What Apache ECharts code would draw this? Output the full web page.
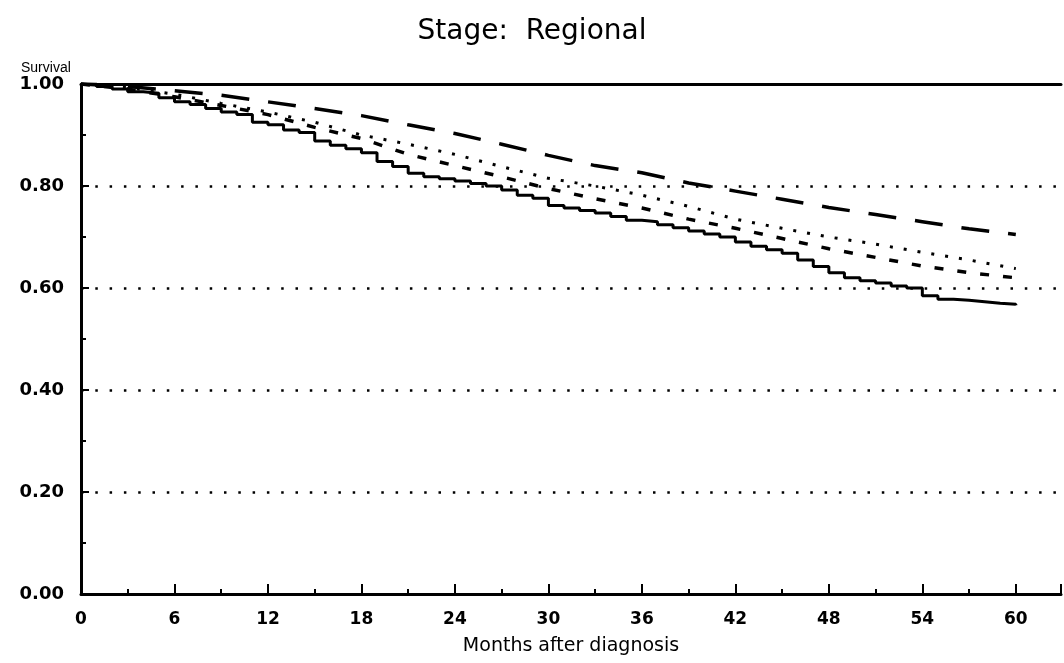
<!DOCTYPE html>
<html>
<head>
<meta charset="utf-8">
<script src="https://cdn.jsdelivr.net/npm/echarts@6/dist/echarts.min.js"></script>
<style>
html,body{margin:0;padding:0;background:#fff;}
#chart{width:1064px;height:663px;}
</style>
</head>
<body>
<div id="chart"></div>
<script>
// Months after diagnosis
const monthsSolid = [0,1,2,3,4,5,6,7,8,9,10,11,12,13,14,15,16,17,18,19,20,21,22,23,24,25,26,27,28,29,30,31,32,33,34,35,36,37,38,39,40,41,42,43,44,45,46,47,48,49,50,51,52,53,54,55,56,57,58,59,60];
const survSolid = [1.0,0.995,0.99,0.985,0.982,0.973,0.965,0.96,0.952,0.945,0.94,0.925,0.92,0.91,0.905,0.888,0.88,0.873,0.865,0.848,0.838,0.825,0.818,0.814,0.81,0.805,0.8,0.792,0.782,0.776,0.762,0.757,0.752,0.747,0.74,0.733,0.73,0.724,0.718,0.712,0.706,0.70,0.69,0.682,0.675,0.668,0.655,0.642,0.63,0.62,0.614,0.61,0.604,0.6,0.585,0.578,0.576,0.573,0.57,0.568,0.566];

const monthsOther = [0,3,6,9,12,15,18,21,24,27,30,33,36,39,42,45,48,51,54,57,60];
const survLongDash = [1.0,0.995,0.987,0.978,0.965,0.952,0.938,0.92,0.903,0.882,0.86,0.84,0.826,0.806,0.79,0.774,0.758,0.744,0.73,0.716,0.705];
const survDotted = [1.0,0.993,0.98,0.962,0.945,0.925,0.9,0.882,0.862,0.838,0.815,0.8,0.782,0.76,0.735,0.717,0.70,0.686,0.67,0.655,0.638];
const survShortDash = [1.0,0.99,0.975,0.958,0.94,0.915,0.893,0.862,0.84,0.818,0.795,0.775,0.757,0.735,0.717,0.697,0.677,0.66,0.643,0.63,0.62];

const xTickStep = 6;
const yTickStep = 0.2;

function pairs(xs, ys){ return xs.map((x,i)=>[x, ys[i]]); }

const chart = echarts.init(document.getElementById('chart'), null, {renderer:'canvas'});
const fontL = '"Liberation Sans", Arial, Helvetica, sans-serif';
const fontD = '"DejaVu Sans", sans-serif';
chart.setOption({
  backgroundColor:'#fff',
  animation:false,
  title:[
    {text:'Stage:  Regional', left:'center', top:13,
     textStyle:{fontFamily:fontD, fontSize:28, fontWeight:'normal', color:'#000'}},
    {text:'Survival', left:16, top:56,
     textStyle:{fontFamily:fontL, fontSize:14, fontWeight:'normal', color:'#000'}}
  ],
  grid:{left:81, right:-3, top:84, bottom:69, containLabel:false},
  xAxis:[{
    type:'value', min:0, max:62.9, interval:xTickStep,
    name:'Months after diagnosis', nameLocation:'middle', nameGap:43,
    nameTextStyle:{fontFamily:fontD, fontSize:19, color:'#000'},
    axisLine:{show:true, onZero:false, lineStyle:{color:'#000', width:3}},
    axisTick:{show:true, inside:true, length:10, lineStyle:{color:'#000', width:2}},
    minorTick:{show:true, splitNumber:2, length:5, lineStyle:{color:'#000', width:2}},
    axisLabel:{fontFamily:fontD, fontSize:17, fontWeight:'bold', color:'#000', margin:17,
      formatter:v=> (v%6===0 && v<=60) ? String(v) : ''},
    splitLine:{show:false}
  },{
    type:'value', position:'top', min:0, max:62.9,
    axisLine:{show:true, onZero:false, lineStyle:{color:'#000', width:3}},
    axisTick:{show:false}, axisLabel:{show:false}, splitLine:{show:false}
  }],
  yAxis:{
    type:'value', min:0, max:1, interval:yTickStep,
    axisLine:{show:true, lineStyle:{color:'#000', width:3}},
    axisTick:{show:true, inside:true, length:8, lineStyle:{color:'#000', width:2}},
    minorTick:{show:true, splitNumber:2, length:5, lineStyle:{color:'#000', width:2}},
    axisLabel:{fontFamily:fontD, fontSize:18, fontWeight:'bold', color:'#000', margin:17,
      padding:[6,0,0,0], formatter:v=>v.toFixed(2)},
    splitLine:{show:true, lineStyle:{color:'#000', width:2.5, type:[2.5,11.8]}}
  },
  series:[
    {type:'line', name:'solid', data:pairs(monthsSolid, survSolid), step:'end', symbol:'none',
     lineStyle:{color:'#000', width:3, type:'solid'}},
    {type:'line', name:'longdash', data:pairs(monthsOther, survLongDash), symbol:'none',
     lineStyle:{color:'#000', width:3.5, type:[28,19]}},
    {type:'line', name:'dotted', data:pairs(monthsOther, survDotted), symbol:'none',
     lineStyle:{color:'#000', width:3, type:[3,11]}},
    {type:'line', name:'shortdash', data:pairs(monthsOther, survShortDash), symbol:'none',
     lineStyle:{color:'#000', width:3.5, type:[9,14]}}
  ]
});
</script>
</body>
</html>
